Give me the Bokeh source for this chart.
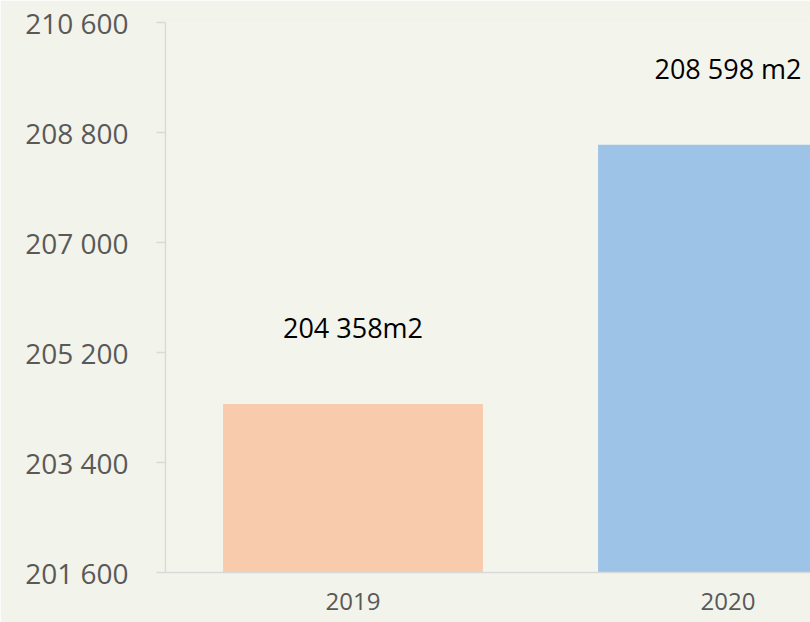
from bokeh.plotting import figure
from bokeh.models import ColumnDataSource, Range1d, FixedTicker, LabelSet
from bokeh.core.properties import value
from bokeh.embed import file_html
from bokeh.resources import INLINE

# ---- data ----
categories = ["2019", "2020"]
areas = [204358, 208598]
bar_labels = ["204 358m2", "208 598 m2"]
bar_colors = ["#f8cbad", "#9dc3e6"]
y_ticks = [201600, 203400, 205200, 207000, 208800, 210600]
y_tick_labels = ["201 600", "203 400", "205 200", "207 000", "208 800", "210 600"]

xpos = [i + 0.5 for i in range(len(categories))]
src = ColumnDataSource(dict(x=xpos, top=areas, label=bar_labels, color=bar_colors))

p = figure(width=810, height=622, output_backend="svg", toolbar_location=None,
           x_range=Range1d(0, 1.72), y_range=Range1d(y_ticks[0], y_ticks[-1]),
           min_border_left=165, min_border_top=22, min_border_bottom=50,
           min_border_right=0)

p.vbar(x="x", top="top", bottom=y_ticks[0], width=0.693, color="color",
       line_color=None, source=src)

labels = LabelSet(x="x", y="top", text="label", source=src, text_align="center",
                  text_baseline="alphabetic", y_offset=66,
                  text_font=value("Open Sans"), text_font_size="27px",
                  text_color="#000000")
p.add_layout(labels)

p.background_fill_color = "#f3f4eb"
p.border_fill_color = "#f2f3ea"
p.outline_line_color = None
p.xgrid.visible = False
p.ygrid.visible = False

# y axis
p.yaxis.ticker = FixedTicker(ticks=y_ticks)
p.yaxis.major_label_overrides = {t: l for t, l in zip(y_ticks, y_tick_labels)}
p.yaxis.axis_line_color = "#d9d9d9"
p.yaxis.axis_line_width = 1.3
p.yaxis.major_tick_line_color = "#d9d9d9"
p.yaxis.major_tick_line_width = 1.3
p.yaxis.major_tick_out = 9
p.yaxis.major_tick_in = 0
p.yaxis.minor_tick_line_color = None
p.yaxis.major_label_standoff = 28
p.yaxis.major_label_text_font = "Open Sans"
p.yaxis.major_label_text_font_size = "28px"
p.yaxis.major_label_text_color = "#595959"

# x axis
p.xaxis.ticker = FixedTicker(ticks=xpos)
p.xaxis.major_label_overrides = {x: c for x, c in zip(xpos, categories)}
p.xaxis.axis_line_color = "#d9d9d9"
p.xaxis.axis_line_width = 1.3
p.xaxis.major_tick_line_color = None
p.xaxis.minor_tick_line_color = None
p.xaxis.major_label_standoff = 14
p.xaxis.major_label_text_font = "Open Sans"
p.xaxis.major_label_text_font_size = "24px"
p.xaxis.major_label_text_color = "#595959"

html = file_html(p, INLINE)
html = html.replace("<body>", '<body style="background-color: #f2f3ea;">', 1)
open("out.html", "w").write(html)
